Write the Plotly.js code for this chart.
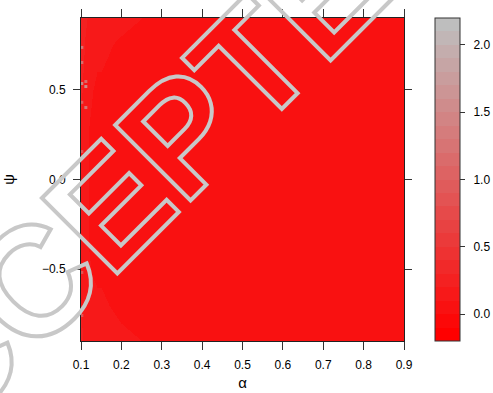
<!DOCTYPE html>
<html>
<head>
<meta charset="utf-8">
<script src="https://cdn.plot.ly/plotly-3.0.1.min.js"></script>
<style>
html,body{margin:0;padding:0;background:#fff;}
#chart{width:493px;height:393px;}
.annotation-text{fill:none !important;stroke:#c8c8c8 !important;stroke-width:4px !important;}
</style>
</head>
<body>
<div id="chart"></div>
<script>
// alpha (x) grid, psi (y) grid
var alpha = [0.10, 0.11, 0.12, 0.13, 0.14, 0.15, 0.17, 0.20, 0.25, 0.30, 0.40, 0.50, 0.60, 0.70, 0.80, 0.90];
var psi = [-0.9, -0.8, -0.7, -0.6, -0.5, -0.4, -0.3, -0.2, -0.1, 0.0, 0.1, 0.2, 0.3, 0.4, 0.5, 0.6, 0.7, 0.8, 0.9];
// z rows follow psi order (bottom to top), columns follow alpha
var zPsiM09 = [0.22,0.17,0.15,0.14,0.13,0.13,0.12,0.11,0.10,0.08,0.06,0.05,0.05,0.05,0.05,0.05];
var zPsiM08 = [0.21,0.16,0.14,0.13,0.12,0.12,0.11,0.10,0.09,0.07,0.05,0.05,0.05,0.05,0.05,0.05];
var zPsiM07 = [0.20,0.15,0.13,0.12,0.11,0.11,0.10,0.09,0.07,0.06,0.05,0.05,0.05,0.05,0.05,0.05];
var zPsiM06 = [0.19,0.14,0.12,0.11,0.10,0.10,0.09,0.08,0.06,0.05,0.05,0.05,0.05,0.05,0.05,0.05];
var zPsiM05 = [0.18,0.13,0.11,0.09,0.08,0.08,0.07,0.06,0.05,0.05,0.05,0.05,0.05,0.05,0.05,0.05];
var zPsiM04 = [0.18,0.12,0.10,0.08,0.07,0.07,0.06,0.06,0.05,0.05,0.05,0.05,0.05,0.05,0.05,0.05];
var zPsiM03 = [0.18,0.12,0.10,0.08,0.07,0.07,0.06,0.06,0.05,0.05,0.05,0.05,0.05,0.05,0.05,0.05];
var zPsiM02 = [0.18,0.12,0.10,0.08,0.07,0.07,0.06,0.06,0.05,0.05,0.05,0.05,0.05,0.05,0.05,0.05];
var zPsiM01 = [0.18,0.12,0.10,0.08,0.07,0.07,0.06,0.06,0.05,0.05,0.05,0.05,0.05,0.05,0.05,0.05];
var zPsi00  = [0.18,0.12,0.10,0.08,0.07,0.07,0.06,0.06,0.05,0.05,0.05,0.05,0.05,0.05,0.05,0.05];
var zPsi01  = [0.18,0.12,0.10,0.08,0.07,0.07,0.06,0.06,0.05,0.05,0.05,0.05,0.05,0.05,0.05,0.05];
var zPsi02  = [0.18,0.12,0.10,0.08,0.07,0.07,0.06,0.06,0.05,0.05,0.05,0.05,0.05,0.05,0.05,0.05];
var zPsi03  = [0.19,0.13,0.10,0.08,0.07,0.07,0.06,0.06,0.05,0.05,0.05,0.05,0.05,0.05,0.05,0.05];
var zPsi04  = [0.20,0.14,0.11,0.09,0.08,0.08,0.07,0.06,0.05,0.05,0.05,0.05,0.05,0.05,0.05,0.05];
var zPsi05  = [0.22,0.15,0.12,0.10,0.09,0.09,0.08,0.07,0.06,0.05,0.05,0.05,0.05,0.05,0.05,0.05];
var zPsi06  = [0.24,0.16,0.13,0.11,0.10,0.10,0.09,0.07,0.06,0.05,0.05,0.05,0.05,0.05,0.05,0.05];
var zPsi07  = [0.26,0.18,0.14,0.12,0.11,0.11,0.10,0.08,0.07,0.06,0.05,0.05,0.05,0.05,0.05,0.05];
var zPsi08  = [0.28,0.20,0.16,0.14,0.13,0.12,0.11,0.10,0.08,0.07,0.05,0.05,0.05,0.05,0.05,0.05];
var zPsi09  = [0.30,0.22,0.18,0.16,0.15,0.14,0.13,0.12,0.10,0.08,0.06,0.05,0.05,0.05,0.05,0.05];
var zRows = [zPsiM09,zPsiM08,zPsiM07,zPsiM06,zPsiM05,zPsiM04,zPsiM03,zPsiM02,zPsiM01,zPsi00,
             zPsi01,zPsi02,zPsi03,zPsi04,zPsi05,zPsi06,zPsi07,zPsi08,zPsi09];

// isolated high-value cells along the left edge
var spotAlpha = [0.102, 0.102, 0.112, 0.102, 0.112, 0.102, 0.112, 0.102, 0.102, 0.102];
var spotPsi   = [0.736, 0.652, 0.546, 0.535, 0.518, 0.430, 0.401, 0.156, -0.518, -0.758];
var spotVal   = [1.3, 1.2, 1.2, 1.5, 1.6, 1.0, 1.3, 0.9, 0.9, 0.9];

var xTicks = [0.1,0.2,0.3,0.4,0.5,0.6,0.7,0.8,0.9];
var yTicks = [-0.5,0.0,0.5];
var cbTicks = [0.0,0.5,1.0,1.5,2.0];
var cbTickText = ["0.0","0.5","1.0","1.5","2.0"];
var zLow = -0.2, zHigh = 2.2, nBands = 24;
var watermark = "ACCEPTED";

// stepped colour scale red -> gray
var cs = [];
for (var k = 0; k < nBands; k++) {
  var t = k/(nBands-1);
  var r = Math.round(255 + (190-255)*t), g = Math.round(190*t);
  var col = 'rgb('+r+','+g+','+g+')';
  cs.push([k/nBands, col]);
  cs.push([(k+1)/nBands, col]);
}

var fam = '"Liberation Sans", Arial, sans-serif';
var fontTick = {family:fam, size:12, color:'#000'};

var trace = {
  type:'heatmap', x:alpha, y:psi, z:zRows,
  zmin:zLow, zmax:zHigh, colorscale:cs, zsmooth:'best',
  hoverinfo:'skip',
  colorbar:{
    x:1.096, xanchor:'left', xpad:0, ypad:0, y:0.5, yanchor:'middle', len:1,
    thickness:25, outlinewidth:1, outlinecolor:'#333',
    tickvals:cbTicks, ticktext:cbTickText.map(function(s){return '\u2002'+s;}),
    ticks:'outside', ticklen:5, tickcolor:'#333',
    tickfont:fontTick
  }
};

var spots = {
  type:'scatter', mode:'markers', x:spotAlpha, y:spotPsi, hoverinfo:'skip', showlegend:false,
  marker:{symbol:'square', size:3, color:spotVal, cmin:zLow, cmax:zHigh, colorscale:cs, showscale:false, line:{width:0}}
};

var layout = {
  width:493, height:393,
  margin:{l:81, r:89, t:18, b:52, pad:0, autoexpand:false},
  paper_bgcolor:'#fff', plot_bgcolor:'#fff',
  font:fontTick, showlegend:false,
  xaxis:{range:[0.1,0.9], tickvals:xTicks, tickformat:'.1f', ticks:'outside', ticklen:8, tickcolor:'#333',
         ticklabelstandoff:5, automargin:false,
         showline:true, linecolor:'#222', linewidth:1, mirror:'ticks', zeroline:false, showgrid:false,
         tickfont:fontTick, title:{text:'α', font:{family:fam, size:15}, standoff:6}},
  yaxis:{range:[-0.9,0.9], tickvals:yTicks, tickformat:'.1f', ticks:'outside', ticklen:7, tickcolor:'#333',
         ticklabelstandoff:5, automargin:false,
         showline:true, linecolor:'#222', linewidth:1, mirror:'ticks', zeroline:false, showgrid:false,
         tickfont:fontTick, title:{text:'ψ', font:{family:fam, size:15}, standoff:26}},
  annotations:[{
    text:watermark, xref:'paper', yref:'paper', x:0.173, y:0.502, xanchor:'center', yanchor:'middle',
    textangle:-45, showarrow:false,
    font:{family:fam, size:155, weight:'bold', color:'#c8c8c8'}
  }]
};

Plotly.newPlot('chart',[trace, spots],layout,{displayModeBar:false, staticPlot:true});
</script>
</body>
</html>
